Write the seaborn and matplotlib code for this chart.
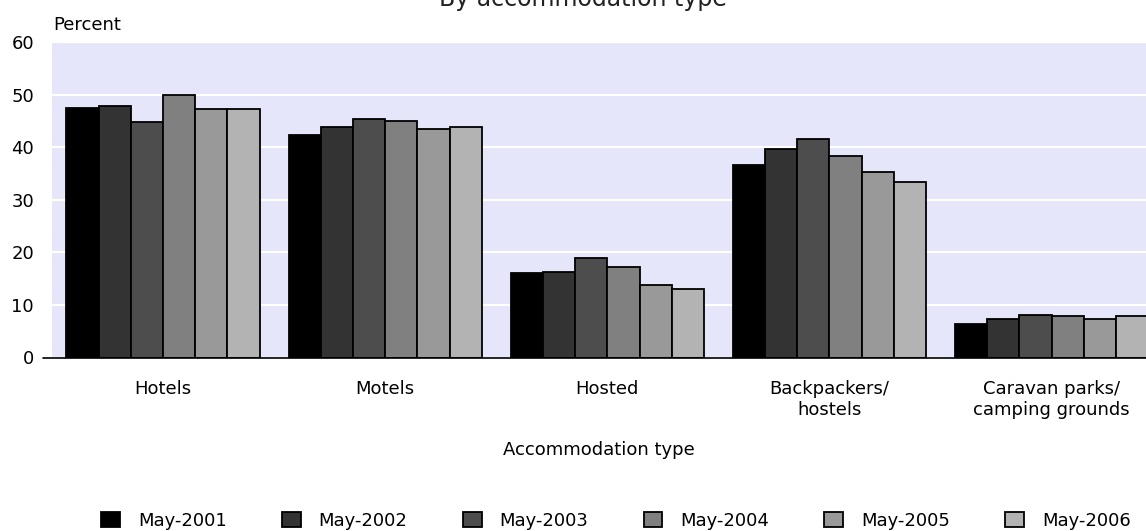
import pandas as pd
import numpy as np
import matplotlib
matplotlib.use('Agg')
import matplotlib.pyplot as plt
import seaborn as sns

# values (percent)
categories = ['Hotels', 'Motels', 'Hosted', 'Backpackers/\nhostels', 'Caravan parks/\ncamping grounds']
periods = ['May-2001', 'May-2002', 'May-2003', 'May-2004', 'May-2005', 'May-2006']
hotels = [47.5, 47.8, 44.7, 50.0, 47.3, 47.3]
motels = [42.4, 43.9, 45.4, 45.0, 43.5, 43.9]
hosted = [16.0, 16.2, 18.9, 17.3, 13.8, 13.1]
backpackers = [36.6, 39.7, 41.5, 38.4, 35.2, 33.4]
caravan = [6.3, 7.3, 8.1, 7.8, 7.3, 7.8]
yticks = [0, 10, 20, 30, 40, 50, 60]
colors = ['#000000', '#333333', '#4d4d4d', '#808080', '#999999', '#b3b3b3']

series = [hotels, motels, hosted, backpackers, caravan]
rows = []
for cat, vals in zip(categories, series):
    for per, v in zip(periods, vals):
        rows.append({'type': cat, 'period': per, 'pct': v})
df = pd.DataFrame(rows)

sns.set_theme(style='white')
plt.rcParams['font.family'] = ['DejaVu Sans']
plt.rcParams['text.color'] = 'black'
plt.rcParams['axes.labelcolor'] = 'black'
plt.rcParams['xtick.color'] = 'black'
plt.rcParams['ytick.color'] = 'black'
fs = 13

fig = plt.figure(figsize=(11.46, 5.31), dpi=100)
ax = fig.add_axes([52 / 1146, (531 - 357.5) / 531, 1 - 52 / 1146, (357.5 - 42) / 531])
ax.set_facecolor('#e6e6fa')

sns.barplot(data=df, x='type', y='pct', hue='period', hue_order=periods,
            order=categories, palette=colors, width=0.87, edgecolor='black',
            linewidth=1.3, saturation=1, ax=ax)
handles, labels = ax.get_legend_handles_labels()
ax.get_legend().remove()

ax.set_ylim(0, 60)
ax.set_xlim(-0.5, 4.425)
ax.set_yticks(yticks)
ax.yaxis.grid(True, color='white', linewidth=1.5)
ax.set_axisbelow(True)
for s in ax.spines.values():
    s.set_visible(False)
ax.plot([-0.008, 1], [0, 0], transform=ax.transAxes, color='black', lw=1.2, clip_on=False, zorder=5)

ax.tick_params(axis='y', labelsize=fs, pad=13, length=0, labelcolor='black')
ax.tick_params(axis='x', labelsize=fs, pad=16, length=0, labelcolor='black')
for t in ax.get_xticklabels():
    t.set_linespacing(1.25)
ax.set_ylabel('')
ax.set_xlabel('Accommodation type', fontsize=fs, labelpad=16, color='black')

fig.text(53 / 1146, 1 - 25 / 531, 'Percent', fontsize=fs, va='center', ha='left')
fig.text(583 / 1146, 1 - 6 / 531, 'By accommodation type', fontsize=17, va='baseline', ha='center',
         color='#222222')

fig.legend(handles, labels, loc='center', bbox_to_anchor=(616 / 1146, 10 / 531),
           ncol=6, frameon=False, fontsize=fs, handlelength=1.05, handleheight=0.9,
           handletextpad=1.0, columnspacing=3.05, borderpad=0)

fig.savefig('out.png', dpi=100)
